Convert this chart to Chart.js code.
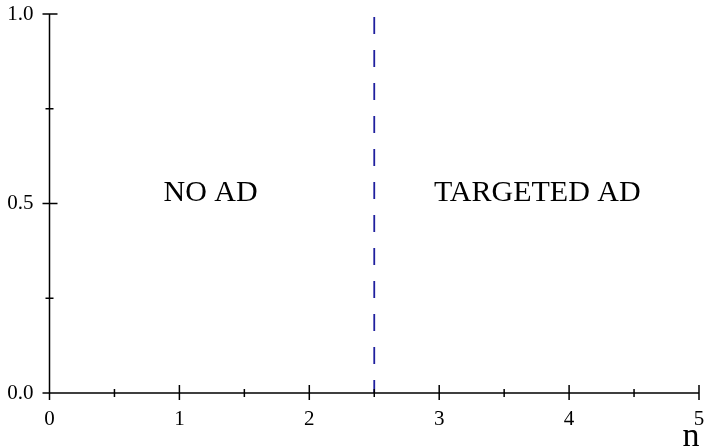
<!DOCTYPE html>
<html lang="en">
<head>
<meta charset="UTF-8">
<title>Ad regions</title>
<style>
  html, body { margin: 0; padding: 0; background: #fff; }
</style>
</head>
<body>
<canvas id="myChart" width="704" height="448"></canvas>
<script src="https://cdn.jsdelivr.net/npm/chart.js"></script>
<script>
// data
const boundaryX = [2.5, 2.5];
const boundaryY = [1, 0];
const xTicks = [0, 1, 2, 3, 4, 5];
const xMinorTicks = [0.5, 1.5, 2.5, 3.5, 4.5];
const yTicks = [0, 0.5, 1];
const yTickLabels = ['0.0', '0.5', '1.0'];
const yMinorTicks = [0.25, 0.75];
const regionLabels = ['NO AD', 'TARGETED AD'];
const regionX = [1.24, 3.755];
const regionY = [0.528, 0.528];
const xTitle = 'n';

const serif = '"Liberation Serif", "Times New Roman", serif';

// axis ticks crossing the axis line, labels and region text
const axisPlugin = {
    id: 'axisPlugin',
    afterDraw(chart) {
        const c = chart.ctx;
        const xs = chart.scales.x, ys = chart.scales.y;
        const x0 = xs.getPixelForValue(0);
        const y0 = ys.getPixelForValue(0);
        c.save();
        c.strokeStyle = '#000';
        c.lineWidth = 1.5;
        c.beginPath();
        c.moveTo(x0, ys.getPixelForValue(1));
        c.lineTo(x0, y0);
        c.lineTo(xs.getPixelForValue(5), y0);
        xTicks.forEach(v => {
            const p = xs.getPixelForValue(v);
            c.moveTo(p, y0 - 8); c.lineTo(p, y0 + 7);
        });
        xMinorTicks.forEach(v => {
            const p = xs.getPixelForValue(v);
            c.moveTo(p, y0 - 4); c.lineTo(p, y0 + 4);
        });
        yTicks.forEach(v => {
            const p = ys.getPixelForValue(v);
            c.moveTo(x0 - 7, p); c.lineTo(x0 + 8, p);
        });
        yMinorTicks.forEach(v => {
            const p = ys.getPixelForValue(v);
            c.moveTo(x0 - 4, p); c.lineTo(x0 + 4, p);
        });
        c.stroke();

        c.fillStyle = '#000';
        c.font = '21px ' + serif;
        c.textAlign = 'center';
        c.textBaseline = 'middle';
        xTicks.forEach(v => {
            c.fillText(String(v), xs.getPixelForValue(v), y0 + 26);
        });
        c.textAlign = 'right';
        yTicks.forEach((v, i) => {
            c.fillText(yTickLabels[i], x0 - 16, ys.getPixelForValue(v));
        });

        c.font = '30px ' + serif;
        c.textAlign = 'center';
        regionLabels.forEach((t, i) => {
            c.fillText(t, xs.getPixelForValue(regionX[i]), ys.getPixelForValue(regionY[i]));
        });

        c.font = '34px ' + serif;
        c.textBaseline = 'alphabetic';
        c.fillText(xTitle, 691, 446);
        c.restore();
    }
};

const ctx = document.getElementById('myChart');
new Chart(ctx, {
    type: 'line',
    data: {
        datasets: [{
            data: boundaryX.map((x, i) => ({ x: x, y: boundaryY[i] })),
            borderColor: '#1f1f9e',
            borderWidth: 1.8,
            borderDash: [17, 16],
            borderDashOffset: 30,
            pointRadius: 0,
            fill: false
        }]
    },
    options: {
        responsive: false,
        animation: false,
        devicePixelRatio: 1,
        layout: { padding: { top: 14, right: 5, left: 0, bottom: 0 } },
        plugins: { legend: { display: false }, tooltip: { enabled: false } },
        scales: {
            x: {
                type: 'linear', min: 0, max: 5,
                grid: { display: false },
                border: { display: false },
                ticks: { display: false },
                afterFit: s => { s.height = 55; }
            },
            y: {
                type: 'linear', min: 0, max: 1,
                grid: { display: false },
                border: { display: false },
                ticks: { display: false },
                afterFit: s => { s.width = 49.5; }
            }
        }
    },
    plugins: [axisPlugin]
});
</script>
</body>
</html>
